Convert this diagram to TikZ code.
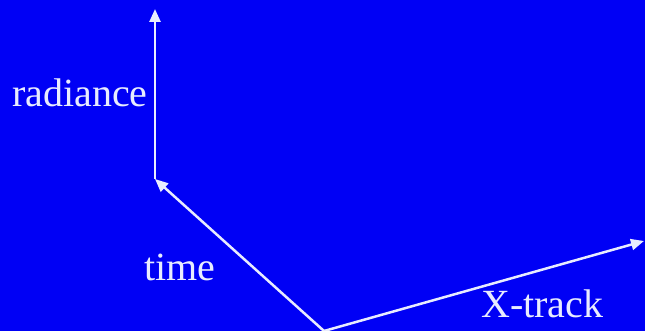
\documentclass[tikz,border=0pt]{standalone}
\usepackage{fontspec}
\setmainfont{Liberation Serif}
\usetikzlibrary{arrows.meta}
\definecolor{bgblue}{RGB}{0,0,245}
\definecolor{fgwhite}{RGB}{232,236,255}
\begin{document}
\begin{tikzpicture}[x=1pt,y=-1pt,
  axis/.style={draw=fgwhite,line width=2.5pt,-{Triangle[length=13pt,width=11pt]}},
  lbl/.style={text=fgwhite,anchor=base west,inner sep=0pt,font=\fontsize{40}{46}\selectfont}]
\fill[bgblue] (0,0) rectangle (645,331);
\useasboundingbox (0,0) rectangle (645,331);
\coordinate (O) at (324,331);
\coordinate (C) at (155,179);
\coordinate (R) at (155,9);
\coordinate (X) at (644,241);
\draw[axis] (O) -- (C);
\draw[axis] (C) -- (R);
\draw[axis] (O) -- (X);
\node[lbl] (rad) at (12,107) {radiance};
\node[lbl] (time) at (144,280) {time};
\node[lbl] (xt) at (481,317) {X-track};
\end{tikzpicture}
\end{document}
